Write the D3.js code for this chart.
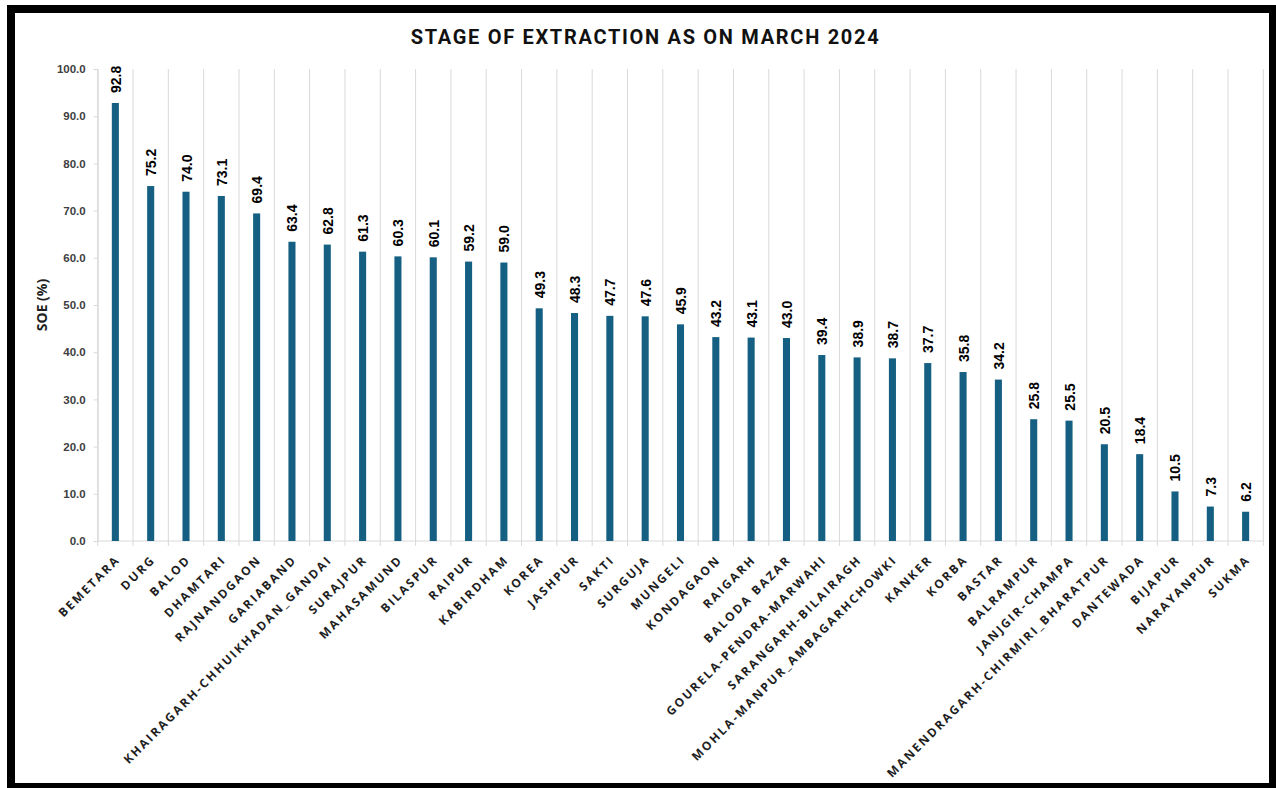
<!DOCTYPE html>
<html>
<head>
<meta charset="utf-8">
<script src="https://cdn.jsdelivr.net/npm/d3@7"></script>
<style>
  html, body { margin: 0; padding: 0; background: #ffffff; }
  svg { display: block; }
</style>
</head>
<body>
<svg id="chart" width="1276" height="788"></svg>
<script>
// District-wise stage of groundwater extraction (%)
const districts = [
  "BEMETARA", "DURG", "BALOD", "DHAMTARI", "RAJNANDGAON", "GARIABAND",
  "KHAIRAGARH-CHHUIKHADAN_GANDAI", "SURAJPUR", "MAHASAMUND", "BILASPUR",
  "RAIPUR", "KABIRDHAM", "KOREA", "JASHPUR", "SAKTI", "SURGUJA", "MUNGELI",
  "KONDAGAON", "RAIGARH", "BALODA BAZAR", "GOURELA-PENDRA-MARWAHI",
  "SARANGARH-BILAIRAGH", "MOHLA-MANPUR_AMBAGARHCHOWKI", "KANKER", "KORBA",
  "BASTAR", "BALRAMPUR", "JANJGIR-CHAMPA", "MANENDRAGARH-CHIRMIRI_BHARATPUR",
  "DANTEWADA", "BIJAPUR", "NARAYANPUR", "SUKMA"
];
const soeValues = [
  92.8, 75.2, 74.0, 73.1, 69.4, 63.4, 62.8, 61.3, 60.3, 60.1, 59.2, 59.0,
  49.3, 48.3, 47.7, 47.6, 45.9, 43.2, 43.1, 43.0, 39.4, 38.9, 38.7, 37.7,
  35.8, 34.2, 25.8, 25.5, 20.5, 18.4, 10.5, 7.3, 6.2
];
const yTicks = [0, 10, 20, 30, 40, 50, 60, 70, 80, 90, 100];
const chartTitle = "STAGE OF EXTRACTION AS ON MARCH 2024";
const yTitle = "SOE (%)";

const rows = districts.map((d, i) => ({ name: d, value: soeValues[i] }));

const svg = d3.select("#chart");
const plot = { left: 97.7, right: 1263.3, top: 69, bottom: 541 };

const gridColor = "#d9d9d9";
const barColor = "#156082";
const textDark = "#1f1f1f";

// outer frame
svg.append("rect")
  .attr("x", 11).attr("y", 9)
  .attr("width", 1262).attr("height", 778)
  .attr("fill", "#ffffff")
  .attr("stroke", "#000000")
  .attr("stroke-width", 8);

const x = d3.scaleBand()
  .domain(districts)
  .range([plot.left, plot.right])
  .paddingInner(0.8)
  .paddingOuter(0.4);

const y = d3.scaleLinear()
  .domain([0, 100])
  .range([plot.bottom, plot.top]);

// vertical gridlines at category boundaries (extend below the axis as tick marks)
const boundaries = d3.range(districts.length + 1).map(i => plot.left + i * x.step());
svg.append("g")
  .selectAll("line")
  .data(boundaries)
  .join("line")
  .attr("x1", d => d).attr("x2", d => d)
  .attr("y1", plot.top).attr("y2", plot.bottom + 5)
  .attr("stroke", gridColor)
  .attr("stroke-width", 1);

// category axis line
svg.append("line")
  .attr("x1", plot.left).attr("x2", plot.right)
  .attr("y1", plot.bottom).attr("y2", plot.bottom)
  .attr("stroke", gridColor)
  .attr("stroke-width", 1);

// value axis
const yAxis = d3.axisLeft(y)
  .tickValues(yTicks)
  .tickFormat(d3.format(".1f"))
  .tickSize(4)
  .tickPadding(8);
const yg = svg.append("g")
  .attr("transform", `translate(${plot.left},0)`)
  .call(yAxis);
yg.select(".domain").attr("stroke", gridColor);
yg.selectAll(".tick line").attr("stroke", gridColor);
yg.selectAll(".tick text")
  .attr("fill", "#404040")
  .style("font-family", "'Liberation Sans', Arial, sans-serif")
  .style("font-weight", "bold")
  .style("font-size", "11.5px");

// bars
svg.append("g")
  .selectAll("rect")
  .data(rows)
  .join("rect")
  .attr("x", d => x(d.name))
  .attr("width", x.bandwidth())
  .attr("y", d => y(d.value))
  .attr("height", d => y(0) - y(d.value))
  .attr("fill", barColor);

// value labels, rotated above each bar
svg.append("g")
  .selectAll("text")
  .data(rows)
  .join("text")
  .attr("transform", d => `translate(${x(d.name) + x.bandwidth() / 2 + 5.5},${y(d.value) - 10}) rotate(-90)`)
  .attr("text-anchor", "start")
  .attr("fill", "#000000")
  .style("font-family", "'Liberation Sans', Arial, sans-serif")
  .style("font-weight", "bold")
  .style("font-size", "14px")
  .text(d => d.value.toFixed(1));

// category labels, rotated 45 degrees
svg.append("g")
  .selectAll("text")
  .data(rows)
  .join("text")
  .attr("transform", d => `translate(${x(d.name) + x.bandwidth() / 2 + 5.5},${plot.bottom + 19.5}) rotate(-45)`)
  .attr("text-anchor", "end")
  .attr("fill", textDark)
  .style("font-family", "'Open Sans', sans-serif")
  .style("font-weight", "bold")
  .style("font-size", "12px")
  .style("letter-spacing", "2.1px")
  .text(d => d.name);

// axis title
svg.append("text")
  .attr("transform", `translate(47,305) rotate(-90)`)
  .attr("text-anchor", "middle")
  .attr("fill", textDark)
  .style("font-family", "'Open Sans', sans-serif")
  .style("font-weight", "bold")
  .style("font-size", "14px")
  .text(yTitle);

// chart title
svg.append("text")
  .attr("x", 645.5).attr("y", 44)
  .attr("text-anchor", "middle")
  .attr("fill", "#111111")
  .style("font-family", "Roboto, sans-serif")
  .style("font-weight", "bold")
  .style("font-size", "20px")
  .style("letter-spacing", "1.7px")
  .text(chartTitle);
</script>
</body>
</html>
